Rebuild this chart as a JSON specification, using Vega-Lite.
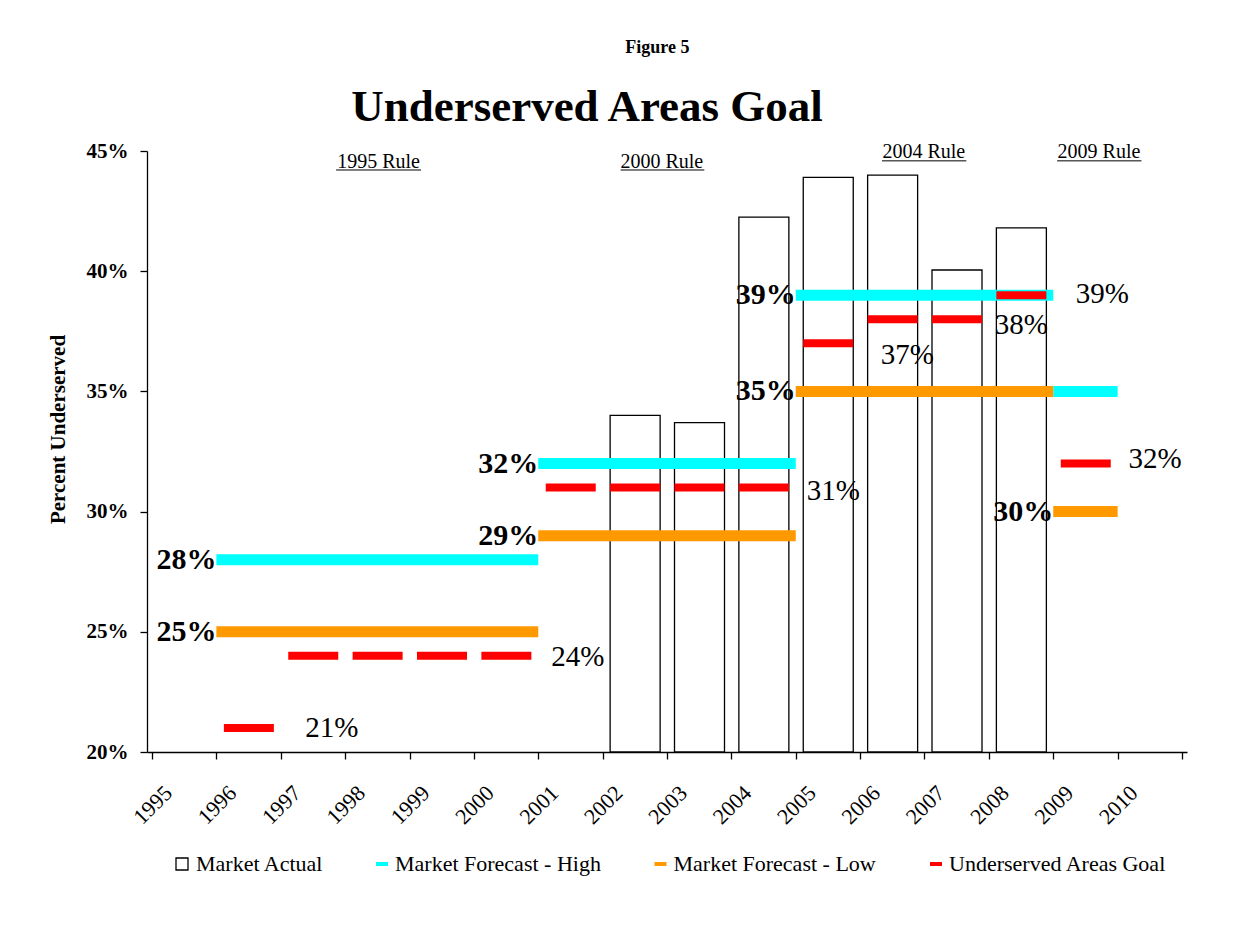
{
  "$schema": "https://vega.github.io/schema/vega-lite/v6.json",
  "width": 1040,
  "height": 601,
  "autosize": {"type": "none"},
  "padding": {"left": 147, "top": 151, "right": 63, "bottom": 185},
  "background": "white",
  "config": {
    "font": "Liberation Serif",
    "view": {"stroke": null},
    "axis": {"domainColor": "black", "tickColor": "black", "labelColor": "black", "titleColor": "black", "grid": false, "tickSize": 7, "domainWidth": 1.3, "tickWidth": 1.3},
    "legend": {"labelFontSize": 22, "labelColor": "black", "labelLimit": 500, "padding": 0, "title": null}
  },
  "title": {"text": "Underserved Areas Goal", "fontSize": 45, "fontWeight": "bold", "color": "black", "anchor": "middle", "dx": -80, "offset": 20, "dy": 111},
  "datasets": {
    "bars": [
      {"series": "Market Actual", "year": 2002, "value": 34.0},
      {"series": "Market Actual", "year": 2003, "value": 33.7},
      {"series": "Market Actual", "year": 2004, "value": 42.25},
      {"series": "Market Actual", "year": 2005, "value": 43.9},
      {"series": "Market Actual", "year": 2006, "value": 44.0},
      {"series": "Market Actual", "year": 2007, "value": 40.05},
      {"series": "Market Actual", "year": 2008, "value": 41.8}
    ],
    "forecasts": [
      {"series": "Market Forecast - High", "from": 1996, "to": 2001, "value": 28},
      {"series": "Market Forecast - High", "from": 2001, "to": 2005, "value": 32},
      {"series": "Market Forecast - High", "from": 2005, "to": 2009, "value": 39},
      {"series": "Market Forecast - High", "from": 2009, "to": 2010, "value": 35},
      {"series": "Market Forecast - Low", "from": 1996, "to": 2001, "value": 25},
      {"series": "Market Forecast - Low", "from": 2001, "to": 2005, "value": 29},
      {"series": "Market Forecast - Low", "from": 2005, "to": 2009, "value": 35},
      {"series": "Market Forecast - Low", "from": 2009, "to": 2010, "value": 30}
    ],
    "goals": [
      {"series": "Underserved Areas Goal", "year": 1996, "value": 21},
      {"series": "Underserved Areas Goal", "year": 1997, "value": 24},
      {"series": "Underserved Areas Goal", "year": 1998, "value": 24},
      {"series": "Underserved Areas Goal", "year": 1999, "value": 24},
      {"series": "Underserved Areas Goal", "year": 2000, "value": 24},
      {"series": "Underserved Areas Goal", "year": 2001, "value": 31},
      {"series": "Underserved Areas Goal", "year": 2002, "value": 31},
      {"series": "Underserved Areas Goal", "year": 2003, "value": 31},
      {"series": "Underserved Areas Goal", "year": 2004, "value": 31},
      {"series": "Underserved Areas Goal", "year": 2005, "value": 37},
      {"series": "Underserved Areas Goal", "year": 2006, "value": 38},
      {"series": "Underserved Areas Goal", "year": 2007, "value": 38},
      {"series": "Underserved Areas Goal", "year": 2008, "value": 39},
      {"series": "Underserved Areas Goal", "year": 2009, "value": 32}
    ],
    "boldLabels": [
      {"text": "28%", "x": 1996, "y": 28},
      {"text": "25%", "x": 1996, "y": 25},
      {"text": "32%", "x": 2001, "y": 32},
      {"text": "29%", "x": 2001, "y": 29},
      {"text": "39%", "x": 2005, "y": 39},
      {"text": "35%", "x": 2005, "y": 35},
      {"text": "30%", "x": 2009, "y": 30}
    ],
    "valueLabels": [
      {"text": "21%", "x": 1997.38, "y": 21.0},
      {"text": "24%", "x": 2001.2, "y": 23.95},
      {"text": "31%", "x": 2005.17, "y": 30.86},
      {"text": "37%", "x": 2006.32, "y": 36.53},
      {"text": "38%", "x": 2008.09, "y": 37.76},
      {"text": "39%", "x": 2009.35, "y": 39.07},
      {"text": "32%", "x": 2010.17, "y": 32.19}
    ],
    "ruleLabels": [
      {"text": "1995 Rule", "x": 1998.52, "y": 44.29, "x1": 1997.86, "x2": 1999.18, "uy": 44.21},
      {"text": "2000 Rule", "x": 2002.92, "y": 44.29, "x1": 2002.28, "x2": 2003.58, "uy": 44.21},
      {"text": "2004 Rule", "x": 2006.99, "y": 44.71, "x1": 2006.34, "x2": 2007.65, "uy": 44.59},
      {"text": "2009 Rule", "x": 2009.71, "y": 44.71, "x1": 2009.06, "x2": 2010.37, "uy": 44.59}
    ],
    "figure": [
      {"text": "Figure 5", "x": 2002.85, "y": 49.28}
    ]
  },
  "layer": [
    {
      "data": {"name": "bars"},
      "mark": {"type": "bar", "stroke": "black", "strokeWidth": 1.3, "width": 50, "xOffset": 32.5},
      "encoding": {
        "x": {"field": "year", "type": "quantitative", "title": null,
          "scale": {"domain": [1995, 2011], "nice": false, "zero": false},
          "axis": {"values": [1995,1996,1997,1998,1999,2000,2001,2002,2003,2004,2005,2006,2007,2008,2009,2010,2011],
            "labelExpr": "datum.value == 2011 ? '' : datum.value",
            "labelAngle": -45, "labelAlign": "right", "labelBaseline": "middle",
            "labelFontSize": 22, "labelOffset": 16, "labelPadding": 30,
            "labelOverlap": false, "labelBound": false, "labelFlush": false}},
        "y": {"field": "value", "type": "quantitative", "title": "Percent Underserved",
          "scale": {"domain": [20, 45], "nice": false, "zero": false},
          "axis": {"values": [20, 25, 30, 35, 40, 45], "labelExpr": "datum.value + '%'",
            "labelFontSize": 21, "labelFontWeight": "bold", "labelPadding": 12,
            "titleFontSize": 21, "titleFontWeight": "bold", "titlePadding": 18, "titleY": 278}},
        "y2": {"datum": 20},
        "fill": {"field": "series", "type": "nominal",
          "scale": {"domain": ["Market Actual"], "range": ["white"]},
          "legend": {"orient": "none", "legendX": 24, "legendY": 702, "direction": "horizontal",
            "labelOffset": 3, "symbolType": "square", "symbolSize": 144,
            "symbolStrokeColor": "black", "symbolStrokeWidth": 1.3, "symbolFillColor": "white"}}
      }
    },
    {
      "data": {"name": "forecasts"},
      "mark": {"type": "rule", "strokeWidth": 11, "strokeCap": "butt"},
      "encoding": {
        "x": {"field": "from", "type": "quantitative", "title": null},
        "x2": {"field": "to"},
        "y": {"field": "value", "type": "quantitative", "title": "Percent Underserved"},
        "stroke": {"field": "series", "type": "nominal",
          "scale": {"domain": ["Market Forecast - High", "Market Forecast - Low", "Underserved Areas Goal"],
                    "range": ["#00FFFF", "#FF9900", "#FF0000"]},
          "legend": {"orient": "none", "legendX": 224, "legendY": 702, "direction": "horizontal",
            "labelOffset": 2, "columnPadding": 45.5, "symbolType": "stroke", "symbolSize": 144, "symbolStrokeWidth": 4}}
      }
    },
    {
      "data": {"name": "goals"},
      "mark": {"type": "rule", "strokeWidth": 8, "strokeCap": "butt", "xOffset": 7.5, "x2Offset": 57.5},
      "encoding": {
        "x": {"field": "year", "type": "quantitative", "title": null},
        "x2": {"field": "year"},
        "y": {"field": "value", "type": "quantitative", "title": "Percent Underserved"},
        "stroke": {"field": "series", "type": "nominal"}
      }
    },
    {
      "data": {"name": "boldLabels"},
      "mark": {"type": "text", "align": "right", "baseline": "middle", "fontSize": 30, "fontWeight": "bold", "color": "black"},
      "encoding": {
        "x": {"field": "x", "type": "quantitative", "title": null},
        "y": {"field": "y", "type": "quantitative", "title": "Percent Underserved"},
        "text": {"field": "text"}
      }
    },
    {
      "data": {"name": "valueLabels"},
      "mark": {"type": "text", "align": "left", "baseline": "middle", "fontSize": 29, "color": "black"},
      "encoding": {
        "x": {"field": "x", "type": "quantitative", "title": null},
        "y": {"field": "y", "type": "quantitative", "title": "Percent Underserved"},
        "text": {"field": "text"}
      }
    },
    {
      "data": {"name": "ruleLabels"},
      "mark": {"type": "text", "align": "center", "baseline": "alphabetic", "fontSize": 20, "color": "black"},
      "encoding": {
        "x": {"field": "x", "type": "quantitative", "title": null},
        "y": {"field": "y", "type": "quantitative", "title": "Percent Underserved"},
        "text": {"field": "text"}
      }
    },
    {
      "data": {"name": "ruleLabels"},
      "mark": {"type": "rule", "strokeWidth": 1, "color": "black"},
      "encoding": {
        "x": {"field": "x1", "type": "quantitative", "title": null},
        "x2": {"field": "x2"},
        "y": {"field": "uy", "type": "quantitative", "title": "Percent Underserved"}
      }
    },
    {
      "data": {"name": "figure"},
      "mark": {"type": "text", "align": "center", "baseline": "middle", "fontSize": 18, "fontWeight": "bold", "color": "black"},
      "encoding": {
        "x": {"field": "x", "type": "quantitative", "title": null},
        "y": {"field": "y", "type": "quantitative", "title": "Percent Underserved"},
        "text": {"field": "text"}
      }
    }
  ]
}
